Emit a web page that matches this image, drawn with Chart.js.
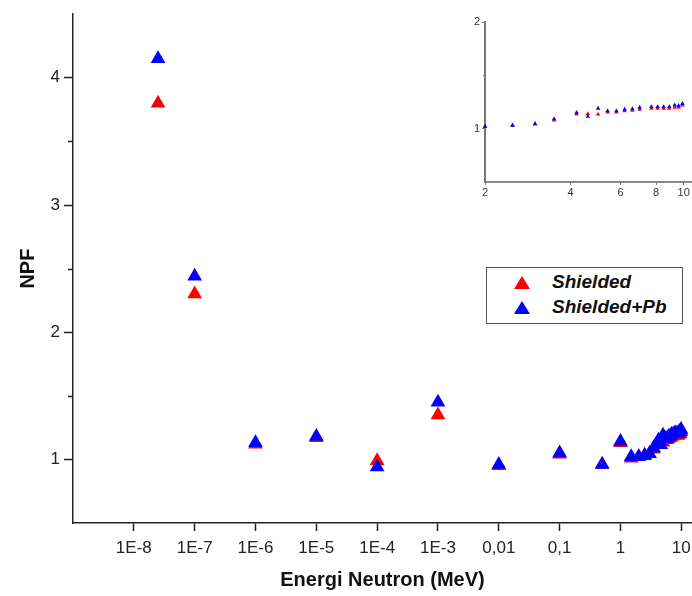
<!DOCTYPE html>
<html>
<head>
<meta charset="utf-8">
<script src="https://cdn.jsdelivr.net/npm/chart.js@4.4.0/dist/chart.umd.min.js"></script>
<style>
  body { margin: 0; background: #fff; }
  #wrap { position: relative; width: 692px; height: 596px; overflow: hidden; }
  #mainChart { position: absolute; left: 0; top: 0; }
  #insetChart { position: absolute; left: 440px; top: 0; }
  #legend {
    position: absolute; left: 486px; top: 267px; width: 195px; height: 55px;
    border: 1px solid #555; background: #fff;
    font-family: "Liberation Sans", Arial, sans-serif;
    font-weight: bold; font-style: italic; font-size: 19px; color: #111;
  }
  .row { position: absolute; left: 0; height: 26px; line-height: 26px; }
  .tri { position: absolute; left: 27px; top: 7px; width: 0; height: 0;
    border-left: 8px solid transparent; border-right: 8px solid transparent; }
  .lbl { position: absolute; left: 65px; white-space: nowrap; }
</style>
</head>
<body>
<div id="wrap">
  <canvas id="mainChart" width="692" height="596"></canvas>
  <canvas id="insetChart" width="252" height="200"></canvas>
  <div id="legend">
    <div class="row" style="top:1px"><span class="tri" style="border-bottom:13px solid #ff0000"></span><span class="lbl">Shielded</span></div>
    <div class="row" style="top:26px"><span class="tri" style="border-bottom:13px solid #0000ff"></span><span class="lbl">Shielded+Pb</span></div>
  </div>
</div>
<script>
// Data
const energy = [2.5e-8, 1e-7, 1e-6, 1e-5, 1e-4, 1e-3, 0.01, 0.1, 0.5, 1, 1.5,
  2, 2.5, 3, 3.5, 4.2, 4.6, 5.0, 5.4, 5.8, 6.2, 6.6, 7.0, 7.7, 8.1, 8.5, 8.9, 9.3, 9.6, 9.9];
const shielded = [3.80, 2.30, 1.12, 1.17, 0.99, 1.35, 0.95, 1.04, 0.96, 1.13, 1.01,
  1.02, 1.03, 1.045, 1.08, 1.135, 1.14, 1.135, 1.155, 1.155, 1.165, 1.17, 1.18, 1.19, 1.19, 1.19, 1.19, 1.20, 1.20, 1.22];
const shieldedPb = [4.15, 2.44, 1.13, 1.18, 0.94, 1.45, 0.96, 1.05, 0.96, 1.14, 1.02,
  1.02, 1.03, 1.045, 1.09, 1.15, 1.115, 1.19, 1.165, 1.165, 1.18, 1.185, 1.20, 1.205, 1.205, 1.205, 1.205, 1.22, 1.215, 1.235];

const xTickValues = [1e-8, 1e-7, 1e-6, 1e-5, 1e-4, 1e-3, 0.01, 0.1, 1, 10];
const xTickLabels = ["1E-8", "1E-7", "1E-6", "1E-5", "1E-4", "1E-3", "0,01", "0,1", "1", "10"];
const yTickValues = [1, 2, 3, 4];
const yMinorValues = [1.5, 2.5, 3.5];

const insetXTicks = [2, 4, 6, 8, 10];
const insetYTicks = [1, 2];
const insetYMinor = [1.5];

const FONT = '"Liberation Sans", Arial, sans-serif';
const RED = "#ff0000";
const BLUE = "#0000ff";

const toPoints = (ys, minX) =>
  energy.map((x, i) => ({ x, y: ys[i] })).filter((p) => p.x >= (minX || 0));

// keep the plot area edge-to-edge (no room reserved for end labels)
const noSidePad = (s) => {
  s.paddingLeft = 0;
  s.paddingRight = 0;
};

// minor y ticks, placed through the scale
const minorTicks = {
  id: "minorTicks",
  afterDraw(chart, args, opts) {
    const s = chart.scales.y;
    const ctx = chart.ctx;
    ctx.save();
    ctx.strokeStyle = opts.color;
    ctx.lineWidth = opts.width;
    opts.values.forEach((v) => {
      const py = Math.round(s.getPixelForValue(v)) + 0.5;
      ctx.beginPath();
      ctx.moveTo(s.right - opts.length, py);
      ctx.lineTo(s.right, py);
      ctx.stroke();
    });
    ctx.restore();
  },
};

// -----------------------------
// Main chart
// -----------------------------
new Chart(document.getElementById("mainChart"), {
  type: "scatter",
  data: {
    datasets: [
      { label: "Shielded+Pb", data: toPoints(shieldedPb), backgroundColor: BLUE, order: 0 },
      { label: "Shielded", data: toPoints(shielded), backgroundColor: RED, order: 1 },
    ],
  },
  options: {
    responsive: false,
    animation: false,
    layout: { autoPadding: false, padding: { top: 14, right: 0, left: 0, bottom: 0 } },
    elements: { point: { pointStyle: "triangle", radius: 8.5, hoverRadius: 8.5, borderWidth: 0 } },
    clip: false,
    plugins: {
      legend: { display: false },
      tooltip: { enabled: false },
      minorTicks: { values: yMinorValues, length: 5, color: "#222", width: 1.5 },
    },
    scales: {
      x: {
        type: "logarithmic",
        min: 1e-9,
        max: 15,
        afterBuildTicks: (s) => { s.ticks = xTickValues.map((v) => ({ value: v })); },
        afterFit: (s) => { s.height = 73; noSidePad(s); },
        ticks: {
          callback: (v, i) => xTickLabels[i],
          font: { family: FONT, size: 17 },
          color: "#222",
          padding: 7,
          maxRotation: 0,
          autoSkip: false,
        },
        grid: { drawOnChartArea: false, tickLength: 8, tickColor: "#222", tickWidth: 1.5 },
        border: { color: "#222", width: 1.5 },
        title: {
          display: true,
          text: "Energi Neutron (MeV)",
          font: { family: FONT, size: 20, weight: "bold" },
          color: "#111",
          padding: { bottom: 4 },
        },
      },
      y: {
        min: 0.5,
        max: 4.5,
        afterBuildTicks: (s) => { s.ticks = yTickValues.map((v) => ({ value: v })); },
        afterFit: (s) => { s.width = 73; },
        ticks: { font: { family: FONT, size: 17 }, color: "#222", padding: 4 },
        grid: { drawOnChartArea: false, tickLength: 9, tickColor: "#222", tickWidth: 1.5 },
        border: { color: "#222", width: 1.5 },
        title: {
          display: true,
          text: "NPF",
          font: { family: FONT, size: 20, weight: "bold" },
          color: "#111",
          padding: { top: 16 },
        },
      },
    },
  },
  plugins: [minorTicks],
});

// -----------------------------
// Inset chart (2 - 10 MeV)
// -----------------------------
new Chart(document.getElementById("insetChart"), {
  type: "scatter",
  data: {
    datasets: [
      { label: "Shielded+Pb", data: toPoints(shieldedPb, 2), backgroundColor: BLUE, order: 0 },
      { label: "Shielded", data: toPoints(shielded, 2), backgroundColor: RED, order: 1 },
    ],
  },
  options: {
    responsive: false,
    animation: false,
    layout: { autoPadding: false, padding: { top: 22, right: 0, left: 0, bottom: 0 } },
    elements: { point: { pointStyle: "triangle", radius: 2.6, hoverRadius: 2.6, borderWidth: 0 } },
    clip: false,
    plugins: {
      legend: { display: false },
      tooltip: { enabled: false },
      minorTicks: { values: insetYMinor, length: 2, color: "#777", width: 1 },
    },
    scales: {
      x: {
        type: "logarithmic",
        min: 2,
        max: 10.7,
        afterBuildTicks: (s) => { s.ticks = insetXTicks.map((v) => ({ value: v })); },
        afterFit: (s) => { s.height = 18; noSidePad(s); },
        ticks: {
          callback: (v) => String(v),
          font: { family: FONT, size: 11 },
          color: "#333",
          padding: 1,
          maxRotation: 0,
          autoSkip: false,
        },
        grid: { drawOnChartArea: false, tickLength: 3, tickColor: "#777", tickWidth: 1 },
        border: { color: "#888", width: 2 },
      },
      y: {
        min: 0.5,
        max: 2,
        afterBuildTicks: (s) => { s.ticks = insetYTicks.map((v) => ({ value: v })); },
        afterFit: (s) => { s.width = 45; },
        ticks: { font: { family: FONT, size: 11 }, color: "#333", padding: 2 },
        grid: { drawOnChartArea: false, tickLength: 3, tickColor: "#777", tickWidth: 1 },
        border: { color: "#777", width: 2 },
      },
    },
  },
  plugins: [minorTicks],
});
</script>
</body>
</html>
